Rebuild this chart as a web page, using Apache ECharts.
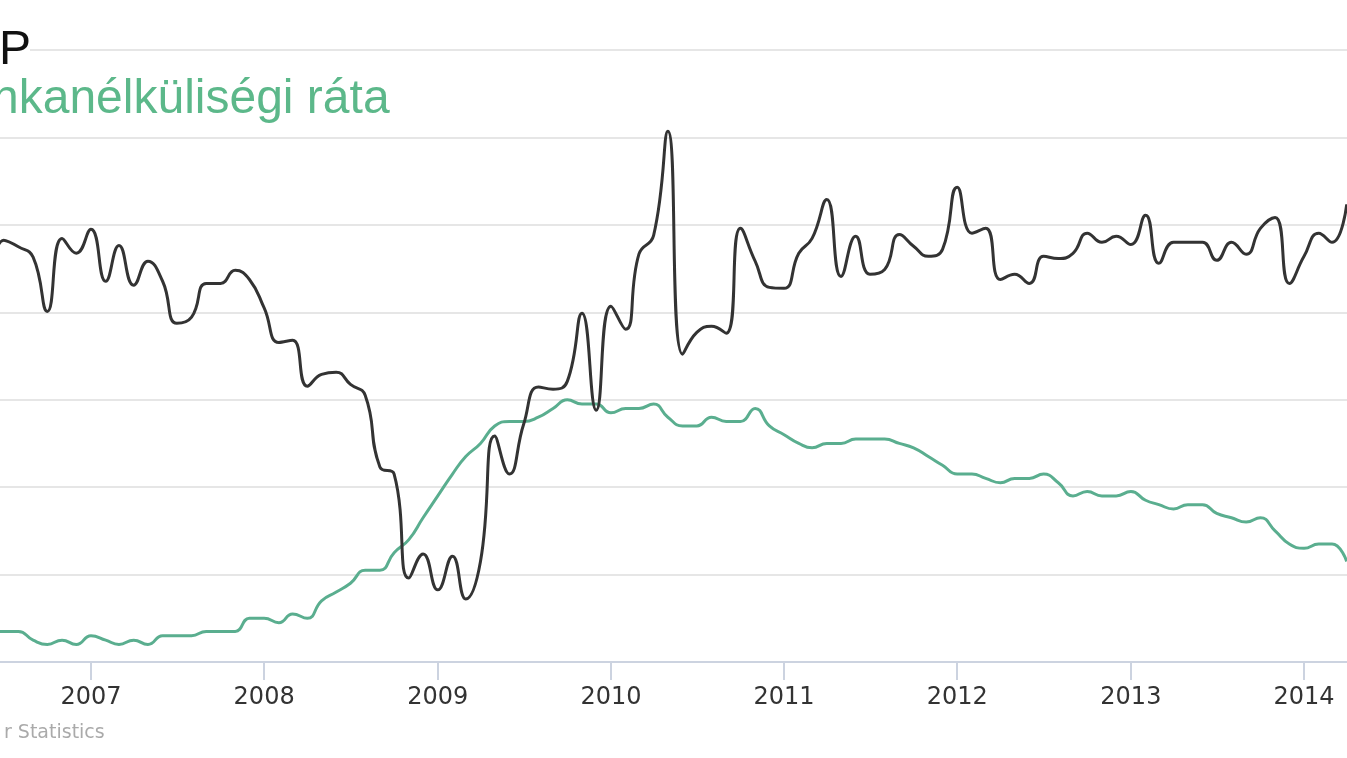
<!DOCTYPE html>
<html>
<head>
<meta charset="utf-8">
<script src="https://cdn.jsdelivr.net/npm/echarts@6/dist/echarts.min.js"></script>
<style>
html,body{margin:0;padding:0;background:#fff;}
#chart{width:1347px;height:758px;}
</style>
</head>
<body>
<div id="chart"></div>
<script>
// Monthly dates (Jun 2006 .. Apr 2014)
const months = [
  '2006-06','2006-07','2006-08','2006-09','2006-10','2006-11','2006-12',
  '2007-01','2007-02','2007-03','2007-04','2007-05','2007-06','2007-07','2007-08','2007-09','2007-10','2007-11','2007-12',
  '2008-01','2008-02','2008-03','2008-04','2008-05','2008-06','2008-07','2008-08','2008-09','2008-10','2008-11','2008-12',
  '2009-01','2009-02','2009-03','2009-04','2009-05','2009-06','2009-07','2009-08','2009-09','2009-10','2009-11','2009-12',
  '2010-01','2010-02','2010-03','2010-04','2010-05','2010-06','2010-07','2010-08','2010-09','2010-10','2010-11','2010-12',
  '2011-01','2011-02','2011-03','2011-04','2011-05','2011-06','2011-07','2011-08','2011-09','2011-10','2011-11','2011-12',
  '2012-01','2012-02','2012-03','2012-04','2012-05','2012-06','2012-07','2012-08','2012-09','2012-10','2012-11','2012-12',
  '2013-01','2013-02','2013-03','2013-04','2013-05','2013-06','2013-07','2013-08','2013-09','2013-10','2013-11','2013-12',
  '2014-01','2014-02','2014-03','2014-04'
];

// NFP monthly change (thousands) - black line
const nfp = [
  20, 165, 150, 126, 2, 169, 135,
  190, 71, 153, 62, 117, 71, -25, -11, 66, 66, 96, 75,
  10, -69, -64, -169, -142, -137, -165, -190, -354, -370, -608, -553,
  -635, -558, -656, -570, -283, -370, -256, -171, -176, -158, -2, -224,
  14, -39, 133, 176, 414, -96, -46, -32, -48, 192, 117, 57,
  55, 135, 169, 258, 82, 174, 87, 98, 178, 151, 128, 144,
  286, 181, 192, 75, 87, 66, 128, 123, 135, 181, 160, 174,
  155, 222, 112, 160, 160, 160, 119, 160, 133, 192, 217, 66,
  128, 181, 160, 247
];

// Unemployment rate (%) - green line
const unemployment = [
  4.7, 4.7, 4.7, 4.5, 4.4, 4.5, 4.4,
  4.6, 4.5, 4.4, 4.5, 4.4, 4.6, 4.6, 4.6, 4.7, 4.7, 4.7, 5.0,
  5.0, 4.9, 5.1, 5.0, 5.4, 5.6, 5.8, 6.1, 6.1, 6.5, 6.8, 7.3,
  7.8, 8.3, 8.7, 9.0, 9.4, 9.5, 9.5, 9.6, 9.8, 10.0, 9.9, 9.9,
  9.7, 9.8, 9.8, 9.9, 9.6, 9.4, 9.4, 9.6, 9.5, 9.5, 9.8, 9.4,
  9.2, 9.0, 8.9, 9.0, 9.0, 9.1, 9.1, 9.1, 9.0, 8.9, 8.7, 8.5,
  8.3, 8.3, 8.2, 8.1, 8.2, 8.2, 8.3, 8.1, 7.8, 7.9, 7.8, 7.8,
  7.9, 7.7, 7.6, 7.5, 7.6, 7.6, 7.4, 7.3, 7.2, 7.3, 7.0, 6.7,
  6.6, 6.7, 6.7, 6.3
];

const titleText = 'P';
const legendText = 'nkanélküliségi ráta';
const sourceText = 'r Statistics';

const nfpData = months.map((m, i) => [m, nfp[i]]);
const unempData = months.map((m, i) => [m, unemployment[i]]);

const chart = echarts.init(document.getElementById('chart'), null, {renderer: 'canvas'});
const YEAR = 365 * 24 * 3600 * 1000;

chart.setOption({
  animation: false,
  backgroundColor: '#ffffff',
  grid: {left: 0, right: 0, top: 50, bottom: 96, containLabel: false},
  xAxis: {
    type: 'time',
    min: new Date(2006, 5, 23, 5).getTime(),
    max: new Date(2014, 3, 1, 14).getTime(),
    minInterval: YEAR,
    splitNumber: 8,
    axisLine: {show: true, onZero: false, lineStyle: {color: '#ccd3e0', width: 2}},
    axisTick: {show: true, length: 18, lineStyle: {color: '#ccd3e0', width: 2}},
    axisLabel: {
      formatter: '{yyyy}',
      color: '#333333',
      fontFamily: 'DejaVu Sans',
      fontSize: 24,
      margin: 24,
      showMinLabel: false,
      showMaxLabel: false
    },
    splitLine: {show: false}
  },
  yAxis: [
    {
      type: 'value', min: -800, max: 600, interval: 200,
      axisLine: {show: false}, axisTick: {show: false}, axisLabel: {show: false},
      splitLine: {show: true, lineStyle: {color: '#e6e6e6', width: 2}}
    },
    {
      type: 'value', min: 4, max: 18, interval: 2,
      axisLine: {show: false}, axisTick: {show: false}, axisLabel: {show: false},
      splitLine: {show: false}
    }
  ],
  series: [
    {
      name: 'NFP', type: 'line', yAxisIndex: 0, data: nfpData,
      smooth: 0.5, showSymbol: false, symbol: 'none',
      lineStyle: {color: '#333333', width: 3}, z: 3
    },
    {
      name: 'Munkanélküliségi ráta', type: 'line', yAxisIndex: 1, data: unempData,
      smooth: 0.5, showSymbol: false, symbol: 'none',
      lineStyle: {color: '#5aae8f', width: 3}, z: 2
    }
  ],
  graphic: [
    {type: 'rect', z: 9, shape: {x: 0, y: 44, width: 30, height: 12}, style: {fill: '#ffffff'}},
    {type: 'text', z: 10, style: {x: -1, y: 51, text: titleText, fill: '#111111', font: '48px "Liberation Sans"', verticalAlign: 'middle', align: 'left'}},
    {type: 'text', z: 10, style: {x: -8, y: 100, text: legendText, fill: '#5cb88a', font: '48px "Liberation Sans"', verticalAlign: 'middle', align: 'left'}},
    {type: 'text', z: 10, style: {x: 4, y: 733, text: sourceText, fill: '#aaaaaa', font: '19px "DejaVu Sans"', verticalAlign: 'middle', align: 'left'}}
  ]
});
</script>
</body>
</html>
